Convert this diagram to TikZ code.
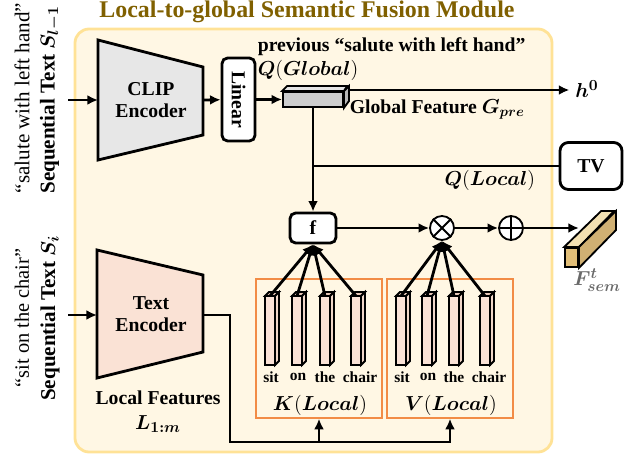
\documentclass[tikz,border=0pt]{standalone}
\usepackage{fontspec}
\setmainfont{Liberation Serif}
\usepackage{amsmath}
\usetikzlibrary{arrows.meta,positioning,calc}

\definecolor{titlegold}{RGB}{128,96,0}
\definecolor{panelfill}{RGB}{255,247,228}
\definecolor{panelline}{RGB}{255,226,150}
\definecolor{clipgray}{RGB}{231,231,231}
\definecolor{textpink}{RGB}{250,226,213}
\definecolor{kvorange}{RGB}{242,140,70}
\definecolor{barpink}{RGB}{250,226,214}
\definecolor{bartop}{RGB}{232,200,185}
\definecolor{barside}{RGB}{240,214,200}
\definecolor{featgray}{RGB}{205,205,205}
\definecolor{feattop}{RGB}{228,228,228}
\definecolor{featside}{RGB}{185,185,185}
\definecolor{semfront}{RGB}{225,190,120}
\definecolor{semtop}{RGB}{242,224,178}
\definecolor{semside}{RGB}{208,176,115}
\definecolor{semgray}{RGB}{105,105,105}

\begin{document}
\begin{tikzpicture}[x=0.025cm, y=-0.025cm, line width=2pt,
	>={Latex[length=7.5pt,width=7pt]},
	lbl/.style={font=\bfseries\fontsize{14}{16}\selectfont, inner sep=1pt},
	rbox/.style={draw, fill=white, rounded corners=4pt, inner sep=0pt,
		font=\bfseries\fontsize{14}{16}\selectfont},
	bar/.style={draw, fill=barpink, line width=1.3pt, minimum width=0.25cm,
		minimum height=1.725cm, inner sep=0pt, outer sep=0pt},
	barline/.style={line width=1.3pt},
	kvbox/.style={draw=kvorange, line width=1pt, minimum width=3.15cm, minimum height=3.475cm},
	word/.style={font=\bfseries\fontsize{11}{12}\selectfont, inner sep=0pt},
	op/.style={draw, circle, fill=white, line width=1.3pt, minimum size=0.6cm, inner sep=0pt}]
	\useasboundingbox (0,0) rectangle (632,459);
	% module panel
	\draw[panelline, fill=panelfill, line width=2pt, rounded corners=10pt] (75,29) rectangle (552,452);
	\node[font=\bfseries\fontsize{17}{19}\selectfont, text=titlegold] (title) at (307,12) {Local-to-global Semantic Fusion Module};
	% inputs
	\node[rotate=90, font=\fontsize{15}{17}\selectfont] (quoteA) at (22,98) {``salute with left hand''};
	\node[rotate=90, lbl, font=\bfseries\fontsize{15}{17}\selectfont] (seqA) at (50,100) {Sequential Text $\boldsymbol{S_{l-1}}$};
	\node[rotate=90, font=\fontsize{14.5}{17}\selectfont] (quoteB) at (22,318) {``sit on the chair''};
	\node[rotate=90, lbl, font=\bfseries\fontsize{15}{17}\selectfont] (seqB) at (50,318) {Sequential Text $\boldsymbol{S_{i}}$};
	% CLIP encoder
	\draw[fill=clipgray] (98,40) -- (203,67) -- (203,135) -- (98,160) -- cycle;
	\node[lbl, align=center] (clip) at (151,100) {CLIP\\Encoder};
	\coordinate (inA) at (68,100);
	\coordinate (clipL) at (98,100);
	\coordinate (clipR) at (203,100);
	\draw[->] (inA) -- (clipL);
	\node[rbox, rotate=-90, minimum width=2.075cm, minimum height=0.825cm] (linear) at (238.5,99.5) {Linear};
	\draw[->] (clipR) -- (linear);
	% global feature
	\node[draw, fill=featgray, line width=1.3pt, minimum width=1.5cm, minimum height=0.375cm, inner sep=0pt] (gfeat) at (313,99.5) {};
	\draw[fill=feattop, barline] (gfeat.north west) -- ++(5,-5) -- ++(60,0) -- (gfeat.north east) -- cycle;
	\draw[fill=featside, barline] (gfeat.north east) -- ++(5,-5) -- ++(0,15) -- (gfeat.south east) -- cycle;
	\draw[->] (linear) -- (gfeat.west);
	\node[lbl, anchor=west] (prevtxt) at (255,47) {previous ``salute with left hand''};
	\node[lbl, anchor=west] (qglob) at (255,70) {$\boldsymbol{Q}(\boldsymbol{Global})$};
	\node[lbl, anchor=west] (gpre) at (347,109) {Global Feature $\boldsymbol{G_{pre}}$};
	\coordinate (gout) at (348,90);
	\node[font=\fontsize{15}{17}\selectfont] (h0) at (587,89) {$\boldsymbol{h^0}$};
	\draw[->] (gout) -- (h0.west |- gout);
	% query path
	\node[rbox, minimum width=1.15cm, minimum height=0.75cm] (f) at (313,228) {f};
	\draw[->] (gfeat) -- (f);
	\node[rbox, minimum width=1.55cm, minimum height=1.175cm, rounded corners=6pt] (tv) at (591,166) {TV};
	\draw (tv) -- (tv -| f);
	\node[lbl, anchor=east] (qloc) at (538,180) {$\boldsymbol{Q}(\boldsymbol{Local})$};
	% fusion
	\node[op] (mul) at (442,228) {};
	\draw[line width=1.3pt] (mul.north west) -- (mul.south east) (mul.north east) -- (mul.south west);
	\node[op] (add) at (511,228) {};
	\draw[line width=1.3pt] (add.north) -- (add.south) (add.west) -- (add.east);
	\draw[->] (f) -- (mul);
	\draw[->] (mul) -- (add);
	\node[draw, fill=semfront, line width=1.3pt, minimum width=0.325cm, minimum height=0.475cm, inner sep=0pt] (fsem) at (571.5,257.5) {};
	\draw[fill=semtop, barline] (fsem.north west) -- ++(37,-36) -- ++(13,0) -- (fsem.north east) -- cycle;
	\draw[fill=semside, barline] (fsem.north east) -- ++(37,-36) -- ++(0,19) -- (fsem.south east) -- cycle;
	\draw[->] (add) -- (add -| fsem.north east);
	\node[font=\fontsize{15}{17}\selectfont, text=semgray] (fsemlbl) at (597,280) {$\boldsymbol{F^{t}_{sem}}$};
	% key / value
	\node[kvbox] (kbox) at (319,348.5) {};
	\node[kvbox] (vbox) at (450,348.5) {};
	\foreach \i/\kx/\vx/\w/\dw in {1/270/401/sit/1, 2/297/427/on/1, 3/325/454/the/0, 4/356/485/chair/4} {
		\node[bar] (k\i) at (\kx,330.5) {};
		\draw[fill=bartop, barline] (k\i.north west) -- ++(4,-4) -- ++(10,0) -- (k\i.north east) -- cycle;
		\draw[fill=barside, barline] (k\i.north east) -- ++(4,-4) -- ++(0,69) -- (k\i.south east) -- cycle;
		\node[bar] (v\i) at (\vx,330.5) {};
		\draw[fill=bartop, barline] (v\i.north west) -- ++(4,-4) -- ++(10,0) -- (v\i.north east) -- cycle;
		\draw[fill=barside, barline] (v\i.north east) -- ++(4,-4) -- ++(0,69) -- (v\i.south east) -- cycle;
		\node[word] (kw\i) at (\kx+\dw,377) {\w};
		\node[word] (vw\i) at (\vx+\dw,377) {\w};
		\draw[->] (k\i.north) -- (f.south);
		\draw[->] (v\i.north) -- (mul.south);
	}
	\node[font=\fontsize{15.5}{17}\selectfont] (klbl) at (320,405) {$\boldsymbol{K}(\boldsymbol{Local})$};
	\node[font=\fontsize{15.5}{17}\selectfont] (vlbl) at (451,405) {$\boldsymbol{V}(\boldsymbol{Local})$};
	% text encoder
	\draw[fill=textpink] (97,250) -- (203,275) -- (203,352) -- (97,378) -- cycle;
	\node[lbl, align=center] (tenc) at (151,314) {Text\\Encoder};
	\coordinate (inB) at (68,315);
	\coordinate (tencL) at (97,315);
	\coordinate (tencR) at (203,315);
	\coordinate (bend) at (230,442);
	\draw[->] (inB) -- (tencL);
	\draw[->] (tencR) -| (bend) -| (vbox.south);
	\draw[->] (bend) -| (kbox.south);
	\node[lbl] (locf) at (158,398) {Local Features};
	\node[lbl, font=\fontsize{15}{17}\selectfont] (l1m) at (158,424) {$\boldsymbol{L_{1:m}}$};
\end{tikzpicture}
\end{document}
